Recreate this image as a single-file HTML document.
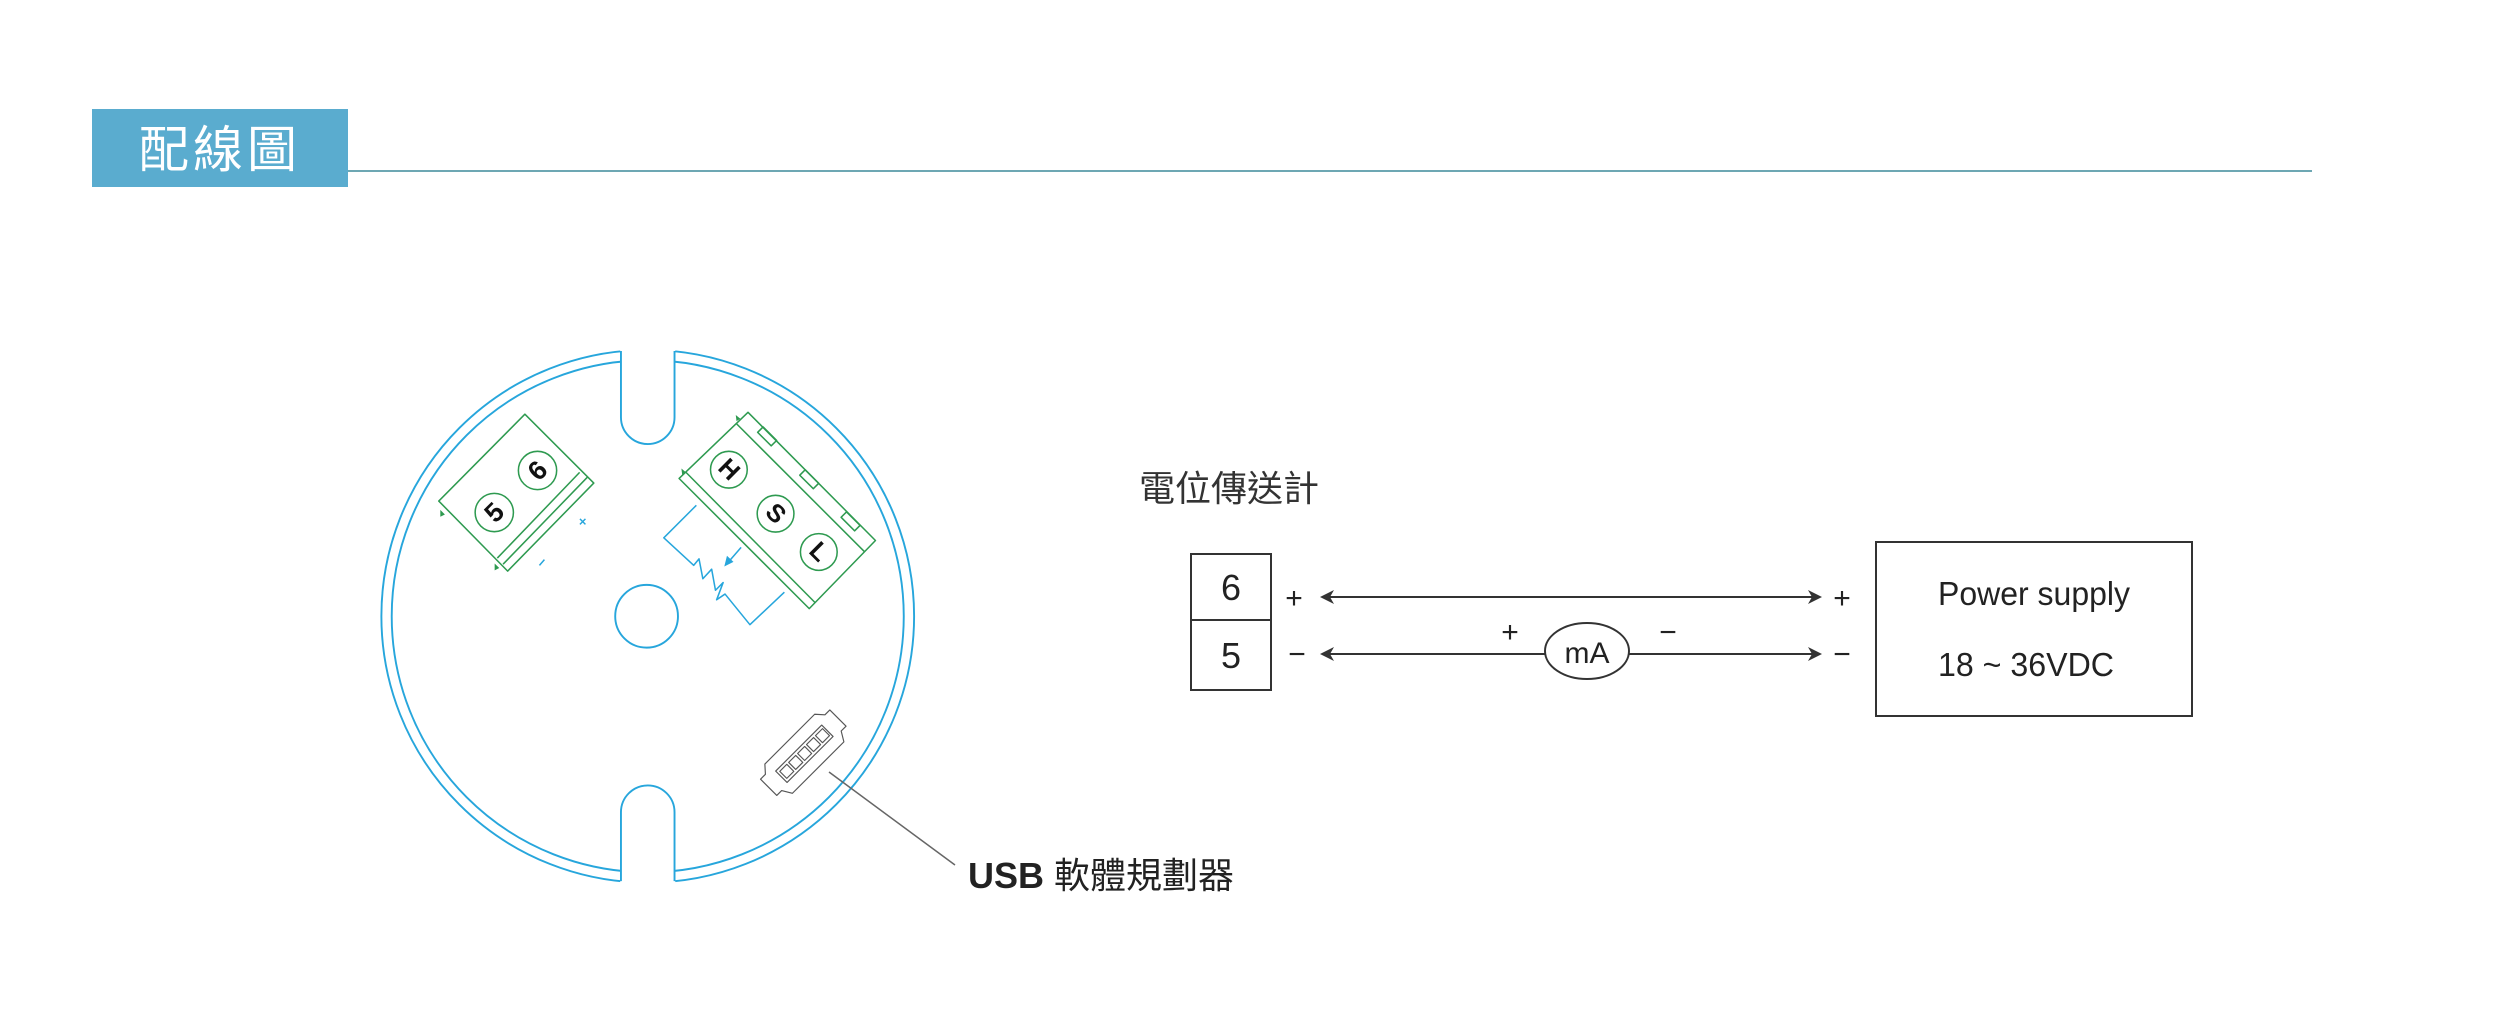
<!DOCTYPE html>
<html><head><meta charset="utf-8"><style>
html,body{margin:0;padding:0;background:#fff;}
body{width:2497px;height:1035px;overflow:hidden;position:relative;}
svg{position:absolute;left:0;top:0;}
</style></head><body>
<svg width="2497" height="1035" viewBox="0 0 2497 1035" xmlns="http://www.w3.org/2000/svg">
<!-- header -->
<rect x="92" y="109" width="256" height="78" fill="#5aaccf"/>
<text x="220" y="167" font-family="Liberation Sans, Noto Sans CJK TC, sans-serif" font-size="50" fill="#fff" text-anchor="middle" letter-spacing="4">配線圖</text>
<line x1="348" y1="171" x2="2312" y2="171" stroke="#3d8a9a" stroke-width="1.5"/>

<!-- round plate (coords in zoom frame) -->
<g transform="translate(350,330) scale(0.3827)" fill="none" stroke-linejoin="round">
  <circle cx="778" cy="748" r="696" stroke="#27a6dc" stroke-width="5"/>
  <circle cx="778" cy="748" r="669" stroke="#27a6dc" stroke-width="5"/>
  <rect x="706" y="30" width="144" height="280" fill="#fff" stroke="none"/>
  <rect x="706" y="1180" width="144" height="300" fill="#fff" stroke="none"/>
  <path d="M708 55 L708 228 A70 70 0 0 0 848 228 L848 55" stroke="#27a6dc" stroke-width="5"/>
  <path d="M708 1440 L708 1260 A70 70 0 0 1 848 1260 L848 1440" stroke="#27a6dc" stroke-width="5"/>
  <circle cx="775" cy="748" r="82" stroke="#27a6dc" stroke-width="5"/>

  <!-- left terminal -->
  <g stroke="#2e9a50" stroke-width="4">
    <polygon points="232,447 457,220 637,400 412,630"/>
    <line x1="600" y1="372" x2="385" y2="596"/>
    <line x1="620" y1="385" x2="400" y2="612"/>
    <circle cx="377" cy="477" r="50"/>
    <circle cx="490" cy="367" r="50"/>
  </g>
  <polygon points="236,470 248,482 236,488" fill="#2e9a50"/>
  <polygon points="378,610 390,622 378,628" fill="#2e9a50"/>
  <text x="377" y="477" transform="rotate(-45 377 477)" font-family="Liberation Sans, sans-serif" font-weight="bold" font-size="70" text-anchor="middle" dominant-baseline="central" fill="#111">5</text>
  <text x="490" y="367" transform="rotate(-45 490 367)" font-family="Liberation Sans, sans-serif" font-weight="bold" font-size="70" text-anchor="middle" dominant-baseline="central" fill="#111">6</text>
  <text x="608" y="500" font-family="Liberation Sans, sans-serif" font-weight="bold" font-size="34" text-anchor="middle" dominant-baseline="central" fill="#27a6dc">×</text>
  <line x1="495" y1="615" x2="508" y2="600" stroke="#27a6dc" stroke-width="4"/>

  <!-- right terminal -->
  <g stroke="#2e9a50" stroke-width="4">
    <polygon points="860,388 1040,215 1373,550 1200,728"/>
    <line x1="878" y1="372" x2="1215" y2="712"/>
    <line x1="1010" y1="245" x2="1345" y2="580"/>
    <rect x="-25" y="-10" width="50" height="20" transform="translate(1090,278) rotate(45)"/>
    <rect x="-25" y="-10" width="50" height="20" transform="translate(1200,390) rotate(45)"/>
    <rect x="-25" y="-10" width="50" height="20" transform="translate(1308,500) rotate(45)"/>
    <circle cx="990" cy="365" r="48"/>
    <circle cx="1112" cy="480" r="48"/>
    <circle cx="1225" cy="580" r="48"/>
  </g>
  <polygon points="1008,222 1020,232 1010,238" fill="#2e9a50"/>
  <polygon points="866,362 878,372 868,378" fill="#2e9a50"/>
  <text x="990" y="365" transform="rotate(45 990 365)" font-family="Liberation Sans, sans-serif" font-weight="bold" font-size="66" text-anchor="middle" dominant-baseline="central" fill="#111">H</text>
  <text x="1112" y="480" transform="rotate(45 1112 480)" font-family="Liberation Sans, sans-serif" font-weight="bold" font-size="66" text-anchor="middle" dominant-baseline="central" fill="#111">S</text>
  <text x="1225" y="580" transform="rotate(45 1225 580)" font-family="Liberation Sans, sans-serif" font-weight="bold" font-size="66" text-anchor="middle" dominant-baseline="central" fill="#111">L</text>

  <!-- potentiometer -->
  <g stroke="#27a6dc" stroke-width="4">
    <path d="M905 458 L820 543 L898 615 L912 598 L922 650 L945 625 L955 680 L975 660 L958 705 L980 690 L1045 770 L1135 685"/>
    <line x1="1022" y1="568" x2="990" y2="605"/>
  </g>
  <polygon points="978,618 985,590 1002,606" fill="#27a6dc"/>

  <!-- USB connector -->
  <g stroke="#555" stroke-width="3" transform="translate(1188,1108) rotate(-45)">
    <path d="M-110 -35 L-92 -55 L92 -55 L110 -35 L128 -35 L128 25 L110 25 L95 50 L-95 50 L-110 25 L-128 25 L-128 -35 Z"/>
    <rect x="-85" y="-22" width="170" height="42"/>
    <rect x="-78" y="-14" width="26" height="26"/>
    <rect x="-45" y="-14" width="26" height="26"/>
    <rect x="-12" y="-14" width="26" height="26"/>
    <rect x="21" y="-14" width="26" height="26"/>
    <rect x="54" y="-14" width="26" height="26"/>
  </g>
</g>
<line x1="829" y1="772" x2="955" y2="865" stroke="#666" stroke-width="1.5"/>
<text x="968" y="888" font-family="Liberation Sans, Noto Sans CJK TC, sans-serif" font-size="36" fill="#222"><tspan font-weight="bold">USB</tspan> 軟體規劃器</text>

<!-- right circuit -->
<text x="1139" y="501" font-family="Liberation Sans, Noto Sans CJK TC, sans-serif" font-size="36" fill="#333">電位傳送計</text>
<g font-family="Liberation Sans Narrow, Liberation Sans, sans-serif" fill="#222">
<rect x="1191" y="554" width="80" height="136" fill="none" stroke="#333" stroke-width="2"/>
<line x1="1191" y1="620" x2="1271" y2="620" stroke="#333" stroke-width="2"/>
<text x="1231" y="600" font-size="36" text-anchor="middle">6</text>
<text x="1231" y="668" font-size="36" text-anchor="middle">5</text>
<text x="1294" y="608" font-size="30" text-anchor="middle">+</text>
<text x="1297" y="664" font-size="30" text-anchor="middle">−</text>
<text x="1842" y="608" font-size="30" text-anchor="middle">+</text>
<text x="1842" y="664" font-size="30" text-anchor="middle">−</text>
<text x="1510" y="642" font-size="30" text-anchor="middle">+</text>
<text x="1668" y="642" font-size="30" text-anchor="middle">−</text>
<line x1="1322" y1="597" x2="1820" y2="597" stroke="#333" stroke-width="2"/>
<polygon points="1320,597 1334,590 1330,597 1334,604" fill="#333"/>
<polygon points="1822,597 1808,590 1812,597 1808,604" fill="#333"/>
<line x1="1322" y1="654" x2="1545" y2="654" stroke="#333" stroke-width="2"/>
<line x1="1629" y1="654" x2="1820" y2="654" stroke="#333" stroke-width="2"/>
<polygon points="1320,654 1334,647 1330,654 1334,661" fill="#333"/>
<polygon points="1822,654 1808,647 1812,654 1808,661" fill="#333"/>
<ellipse cx="1587" cy="651" rx="42" ry="28" fill="none" stroke="#333" stroke-width="2"/>
<text x="1587" y="663" font-size="30" text-anchor="middle">mA</text>
<rect x="1876" y="542" width="316" height="174" fill="none" stroke="#333" stroke-width="2"/>
<text x="1938" y="605" font-size="33" textLength="192" lengthAdjust="spacingAndGlyphs">Power supply</text>
<text x="1938" y="676" font-size="33" textLength="176" lengthAdjust="spacingAndGlyphs">18 ~ 36VDC</text>
</g>
</svg>
</body></html>
